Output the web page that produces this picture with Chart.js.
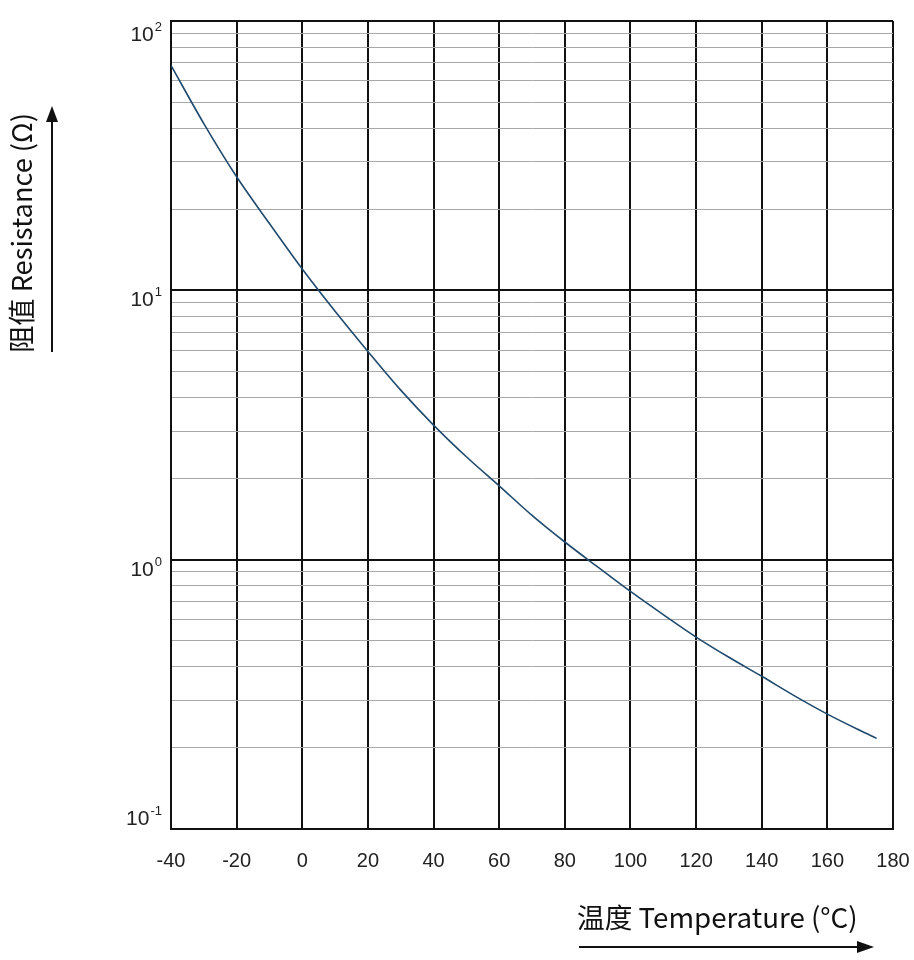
<!DOCTYPE html>
<html>
<head>
<meta charset="utf-8">
<script src="https://cdn.jsdelivr.net/npm/chart.js@4/dist/chart.umd.min.js"></script>
<style>
  body { margin: 0; background: #fff; }
  canvas { display: block; }
</style>
</head>
<body>
<canvas id="grafica" width="914" height="960"></canvas>
<script>
// temperatura (°C) y resistencia (Ω)
const temperaturas = [-40, -30, -20, -10, 0, 10, 20, 30, 40, 50, 60, 70, 80, 90, 100, 110, 120, 130, 140, 150, 160, 170, 175];
const resistencias = [68.4, 41.6, 26.4, 17.7, 12.0, 8.36, 5.93, 4.26, 3.16, 2.41, 1.88, 1.46, 1.163, 0.94, 0.762, 0.625, 0.516, 0.434, 0.369, 0.312, 0.267, 0.232, 0.217];

const decadas = [0.1, 1, 10, 100];
const exponentes = ['-1', '0', '1', '2'];
const menores = [2, 3, 4, 5, 6, 7, 8, 9];
const ticksX = [-40, -20, 0, 20, 40, 60, 80, 100, 120, 140, 160, 180];

const tituloY = '阻值 Resistance (Ω)';
const tituloX = '温度 Temperature (°C)';

function esDecada(v){
    return decadas.some(d => Math.abs(v - d) < d * 1e-6);
}

// ajusta el tamaño de letra para que el texto ocupe "largo" px
function fuenteAjustada(ctx, texto, largo, familia){
    ctx.font = '20px ' + familia;
    const w = ctx.measureText(texto).width;
    return (20 * largo / w).toFixed(1) + 'px ' + familia;
}

const ejesTexto = {
    id: 'ejesTexto',
    afterDraw(chart){
        const ctx = chart.ctx;
        const area = chart.chartArea;
        const y = chart.scales.y;
        const familia = '"Noto Sans CJK SC", "Open Sans", sans-serif';
        ctx.save();
        ctx.fillStyle = '#111';
        ctx.strokeStyle = '#111';
        ctx.lineWidth = 2;

        // etiquetas 10^n del eje y
        decadas.forEach((d, i) => {
            let py = y.getPixelForValue(d) + 8;
            py = Math.max(area.top + 12, Math.min(area.bottom - 12, py));
            ctx.font = '13px "Liberation Sans", Arial, sans-serif';
            const we = ctx.measureText(exponentes[i]).width;
            ctx.textBaseline = 'alphabetic';
            ctx.textAlign = 'right';
            ctx.fillStyle = '#222';
            ctx.fillText(exponentes[i], area.left - 9, py - 2);
            ctx.font = '21px "Liberation Sans", Arial, sans-serif';
            ctx.fillText('10', area.left - 10 - we, py + 8);
        });
        ctx.fillStyle = '#111';

        // titulo vertical
        ctx.save();
        ctx.translate(22, 233);
        ctx.rotate(-Math.PI / 2);
        ctx.font = fuenteAjustada(ctx, tituloY, 240, familia);
        ctx.textAlign = 'center';
        ctx.textBaseline = 'middle';
        ctx.fillText(tituloY, 0, 0);
        ctx.restore();

        // flecha vertical
        ctx.beginPath();
        ctx.moveTo(52, 352);
        ctx.lineTo(52, 118);
        ctx.stroke();
        ctx.beginPath();
        ctx.moveTo(52, 106);
        ctx.lineTo(46, 122);
        ctx.lineTo(58, 122);
        ctx.closePath();
        ctx.fill();

        // titulo horizontal
        ctx.font = fuenteAjustada(ctx, tituloX, 281, familia);
        ctx.textAlign = 'left';
        ctx.textBaseline = 'alphabetic';
        ctx.fillText(tituloX, 577, 928);

        // flecha horizontal
        ctx.beginPath();
        ctx.moveTo(579, 947);
        ctx.lineTo(860, 947);
        ctx.stroke();
        ctx.beginPath();
        ctx.moveTo(874, 947);
        ctx.lineTo(857, 941);
        ctx.lineTo(857, 953);
        ctx.closePath();
        ctx.fill();

        ctx.restore();
    }
};

new Chart(document.getElementById('grafica'), {
    type: 'line',
    data: {
        datasets: [{
            label: 'R',
            data: temperaturas.map((t, i) => ({x: t, y: resistencias[i]})),
            borderColor: '#1f4a6e',
            borderWidth: 1.6,
            pointRadius: 0,
            cubicInterpolationMode: 'monotone',
            fill: false
        }]
    },
    options: {
        responsive: false,
        animation: false,
        devicePixelRatio: 1,
        layout: {
            padding: {left: 0, top: 21, right: 21, bottom: 0}
        },
        plugins: {
            legend: {display: false},
            tooltip: {enabled: false}
        },
        scales: {
            x: {
                type: 'linear',
                min: -40,
                max: 180,
                afterBuildTicks(scale){
                    scale.ticks = ticksX.map(v => ({value: v}));
                },
                afterFit(scale){
                    scale.height = 960 - 829;
                    scale.paddingLeft = 0;
                    scale.paddingRight = 0;
                },
                ticks: {
                    color: '#222',
                    font: {size: 20, family: '"Liberation Sans", Arial, sans-serif'},
                    padding: 20,
                    maxRotation: 0,
                    autoSkip: false
                },
                grid: {
                    color: '#111',
                    lineWidth: 2,
                    drawTicks: false
                },
                border: {color: '#111', width: 2}
            },
            y: {
                type: 'logarithmic',
                min: 0.1,
                max: 100,
                afterBuildTicks(scale){
                    const lista = [];
                    decadas.forEach((d, i) => {
                        lista.push({value: d, major: true});
                        if(i < decadas.length - 1){
                            menores.forEach(m => lista.push({value: d * m}));
                        }
                    });
                    scale.ticks = lista;
                },
                afterFit(scale){
                    scale.width = 171;
                    scale.paddingTop = 0;
                    scale.paddingBottom = 0;
                },
                ticks: {
                    display: true,
                    autoSkip: false,
                    callback(){
                        return '';
                    }
                },
                grid: {
                    color: ctx => esDecada(ctx.tick.value) ? '#111' : '#a8a8a8',
                    lineWidth: ctx => esDecada(ctx.tick.value) ? 2 : 1,
                    drawTicks: false
                },
                border: {color: '#111', width: 2}
            }
        }
    },
    plugins: [ejesTexto]
});
</script>
</body>
</html>
